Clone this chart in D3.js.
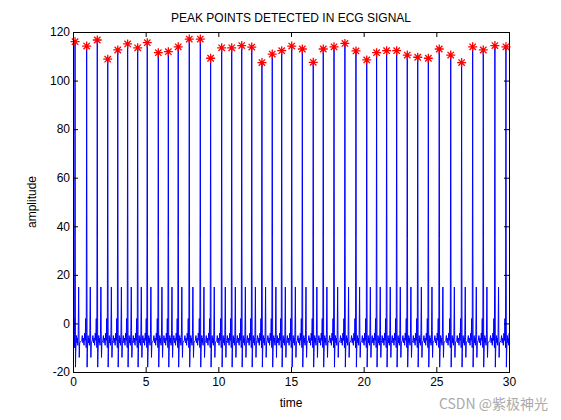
<!DOCTYPE html>
<html><head><meta charset="utf-8">
<script src="https://cdn.jsdelivr.net/npm/d3@7"></script>
<style>body{margin:0;background:#fff}text{font-family:"Liberation Sans",Arial,sans-serif}</style>
</head><body>
<svg id="c" width="561" height="420"></svg>
<script>
// peak positions and amplitudes
const peakTimes = [0.14,0.94,1.67,2.39,3.08,3.76,4.45,5.11,5.87,6.56,7.24,8.00,8.76,9.47,10.23,10.92,11.61,12.30,13.00,13.71,14.36,15.05,15.78,16.53,17.22,17.96,18.71,19.47,20.21,20.89,21.58,22.27,23.00,23.72,24.45,25.20,25.99,26.74,27.50,28.23,29.03,29.79];
const peakValues = [116.0,114.2,116.7,108.8,112.6,115.1,113.5,115.6,111.5,111.9,113.9,117.1,117.1,109.2,113.5,113.5,114.4,113.8,107.4,110.9,112.3,114.2,113.0,107.5,113.0,113.9,115.3,112.2,108.5,111.5,112.3,112.3,110.5,109.6,109.2,113.0,110.5,107.4,113.9,112.6,114.4,113.9];
// one beat shape around each R peak (offset in s, amplitude); null = R peak
const beatOffsets = [-0.34,-0.30,-0.26,-0.22,-0.18,-0.14,-0.10,-0.07,-0.05,-0.03,-0.015,0,0.015,0.03,0.05,0.07,0.10,0.13,0.16,0.19,0.22,0.25,0.27,0.29,0.32];
const beatValues  = [-7,-5,-8,-6,-9,-4,-7,2,-6,-10,45,null,35,-18,-12,-8,-5,-8,-6,-9,-4,15,-3,-14,-8];
const xTicks = [0,5,10,15,20,25,30];
const yTicks = [-20,0,20,40,60,80,100,120];

const signal = [[0,3],[0.05,-10]];
peakTimes.forEach((t, i) => {
  beatOffsets.forEach((o, j) => {
    const tt = t + o;
    if (tt > 0.06 && tt < 30) signal.push([tt, beatValues[j] === null ? peakValues[i] : beatValues[j]]);
  });
});
signal.sort((a, b) => a[0] - b[0]);
signal.push([30, -4]);

const svg = d3.select("#c");
const m = {l: 73, r: 52, t: 32, b: 48};
const w = 561 - m.l - m.r, h = 420 - m.t - m.b;
const x = d3.scaleLinear().domain([0, 30]).range([0, w]);
const y = d3.scaleLinear().domain([-20, 120]).range([h, 0]);
const g = svg.append("g").attr("transform", `translate(${m.l},${m.t})`);

g.append("defs").append("clipPath").attr("id", "clip")
  .append("rect").attr("width", w).attr("height", h);

g.append("path").datum(signal)
  .attr("clip-path", "url(#clip)")
  .attr("fill", "none").attr("stroke", "#0000ff").attr("stroke-width", 1)
  .attr("d", d3.line().x(d => x(d[0])).y(d => y(d[1])));

// matlab-style '*' marker: plus + cross
const star = "M-4.5,0H4.5M0,-4.5V4.5M-3.2,-3.2L3.2,3.2M-3.2,3.2L3.2,-3.2";
g.selectAll(".pk").data(peakTimes).join("path")
  .attr("transform", (d, i) => `translate(${x(d)},${y(peakValues[i])})`)
  .attr("d", star).attr("stroke", "#ff0000").attr("stroke-width", 1.3).attr("fill", "none");

const fmt = d => String(d);
const ax = [
  d3.axisBottom(x).tickValues(xTicks).tickSize(-5).tickFormat(fmt),
  d3.axisTop(x).tickValues(xTicks).tickSize(-5).tickFormat(""),
  d3.axisLeft(y).tickValues(yTicks).tickSize(-5).tickFormat(fmt),
  d3.axisRight(y).tickValues(yTicks).tickSize(-5).tickFormat("")
];
const pos = [`translate(0,${h})`, "translate(0,0)", "translate(0,0)", `translate(${w},0)`];
ax.forEach((a, i) => {
  const s = g.append("g").attr("transform", pos[i]).call(a);
  s.select(".domain").attr("stroke", "#000");
  s.selectAll("line").attr("stroke", "#000");
  s.selectAll("text").attr("font-size", 12).attr("fill", "#000");
  if (i === 0) s.selectAll("text").attr("dy", "0.9em");
});

g.append("text").attr("x", w / 2).attr("y", -10).attr("text-anchor", "middle").attr("font-size", 12).text("PEAK POINTS DETECTED IN ECG SIGNAL");
g.append("text").attr("x", w / 2).attr("y", h + 35).attr("text-anchor", "middle").attr("font-size", 12).text("time");
g.append("text").attr("transform", `translate(-37,${h / 2}) rotate(-90)`).attr("text-anchor", "middle").attr("font-size", 12).text("amplitude");

svg.append("text").attr("x", 548).attr("y", 409).attr("text-anchor", "end").attr("font-size", 14)
  .attr("fill", "#aaa").style("font-family", "'Noto Sans CJK SC',sans-serif").text("CSDN @紫极神光");
</script>
</body></html>
